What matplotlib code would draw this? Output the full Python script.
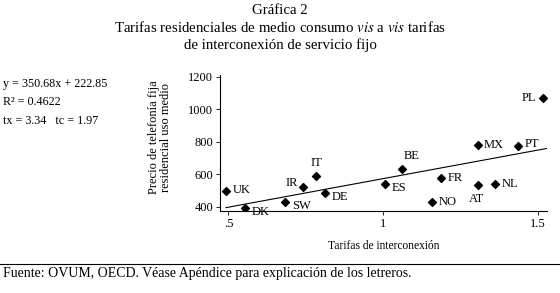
import numpy as np
import matplotlib.pyplot as plt

plt.rcParams['font.family'] = 'Liberation Serif'
plt.rcParams['mathtext.fontset'] = 'stix'

paises = ['UK', 'DK', 'SW', 'IR', 'IT', 'DE', 'ES', 'BE', 'NO', 'FR', 'MX', 'AT', 'NL', 'PT', 'PL']
interconexion = [0.492, 0.553, 0.682, 0.740, 0.783, 0.811, 1.005, 1.061, 1.157, 1.187, 1.307, 1.307, 1.362, 1.435, 1.518]
precio = [498, 396, 431, 523, 588, 488, 541, 635, 429, 580, 782, 537, 539, 772, 1069]
pendiente = 350.68
intercepto = 222.85

# label offsets (points)
offs = {'UK': (5, 1, 'left', 'center'), 'DK': (5, -3, 'left', 'center'),
        'SW': (5, -3, 'left', 'center'), 'IR': (-3, 3, 'right', 'center'),
        'IT': (0, 5, 'center', 'bottom'), 'DE': (5, -3, 'left', 'center'),
        'ES': (5, -3, 'left', 'center'), 'BE': (1, 5, 'left', 'bottom'),
        'NO': (5, 0, 'left', 'center'), 'FR': (5, 0, 'left', 'center'),
        'MX': (4, 0, 'left', 'center'), 'AT': (-1, -6, 'center', 'top'),
        'NL': (5, 0, 'left', 'center'), 'PT': (5, 2, 'left', 'center'),
        'PL': (-5, 0, 'right', 'center')}

fig = plt.figure(figsize=(5.6, 2.93), dpi=100)
ax = fig.add_axes([0.393, 0.28, 0.584, 0.464])

ax.scatter(interconexion, precio, marker='D', s=16, color='black', zorder=3)
xs = np.array([min(interconexion), 1.53])
ax.plot(xs, pendiente * xs + intercepto, color='black', lw=0.8)

for p, x, y in zip(paises, interconexion, precio):
    dx, dy, ha, va = offs[p]
    ax.annotate(p, (x, y), xytext=(dx, dy), textcoords='offset points',
                ha=ha, va=va, fontsize=9)

ax.set_xlim(0.473, 1.53)
ax.set_ylim(375, 1210)
ax.set_xticks([0.5, 1, 1.5])
ax.set_xticklabels(['.5', '1', '1.5'])
ax.set_yticks([400, 600, 800, 1000, 1200])
ax.tick_params(labelsize=9, length=3, width=0.6, pad=2)
for s in ['top', 'right']:
    ax.spines[s].set_visible(False)
for s in ['left', 'bottom']:
    ax.spines[s].set_linewidth(0.8)
ax.set_xlabel('Tarifas de interconexión', fontsize=8.3, labelpad=7)
ax.set_ylabel('Precio de telefonía fija\nresidencial uso medio', fontsize=9,
              linespacing=1.05, va='center')
ax.yaxis.set_label_coords(-0.183, 0.54)

fig.text(0.5, 0.965, 'Gráfica 2', ha='center', va='center', fontsize=10.7)
fig.text(0.5, 0.905, 'Tarifas residenciales de medio consumo $\\it{vis}$ a $\\it{vis}$ tarifas',
         ha='center', va='center', fontsize=10.7)
fig.text(0.5, 0.847, 'de interconexión de servicio fijo', ha='center', va='center', fontsize=10.7)

fig.text(0.006, 0.713, 'y = 350.68x + 222.85', ha='left', va='center', fontsize=8.7)
fig.text(0.006, 0.651, 'R² = 0.4622', ha='left', va='center', fontsize=8.7)
fig.text(0.006, 0.588, 'tx = 3.34   tc = 1.97', ha='left', va='center', fontsize=8.7)

fig.add_artist(plt.Line2D([0, 1], [1 - 264 / 293] * 2, color='black', lw=0.8))
fig.text(0.006, 1 - 273 / 293, 'Fuente: OVUM, OECD. Véase Apéndice para explicación de los letreros.',
         ha='left', va='center', fontsize=10)

fig.savefig('out.png', dpi=100)
